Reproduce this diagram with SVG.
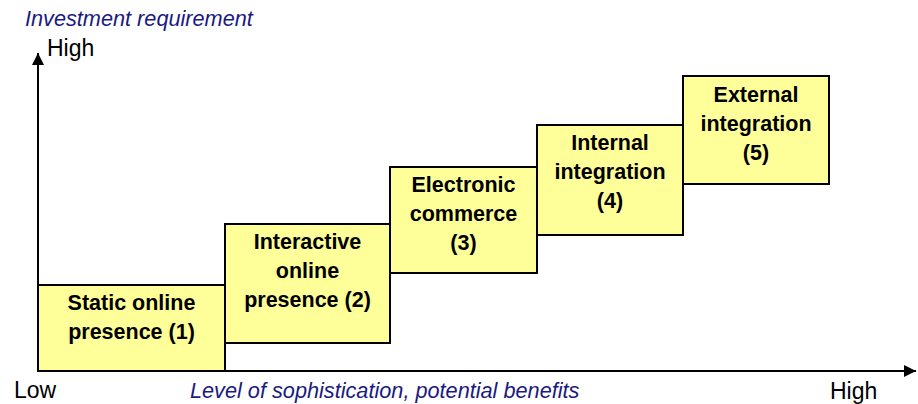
<svg xmlns="http://www.w3.org/2000/svg" width="918" height="404" viewBox="0 0 918 404">
<style>
.box{fill:#ffff99;stroke:#000;stroke-width:2}
.bt{font-family:"Liberation Sans",Arial,sans-serif;font-weight:bold;font-size:21.5px;text-anchor:middle;fill:#000}
.ax{font-family:"Liberation Sans",Arial,sans-serif;font-size:23px;fill:#000}
.it{font-family:"Liberation Sans",Arial,sans-serif;font-style:italic;font-size:21.7px;fill:#1a1a80}
.axis{stroke:#000;stroke-width:2;fill:none}
</style>
<defs>
<marker id="arr" viewBox="0 0 10 10" refX="10" refY="5" markerWidth="6" markerHeight="6" markerUnits="strokeWidth" orient="auto">
<path d="M0,0 L10,5 L0,10 z" fill="#000"/>
</marker>
</defs>
<g id="connectors">
<line class="axis" x1="38" y1="371" x2="38" y2="53" marker-end="url(#arr)"/>
<line class="axis" x1="38" y1="371" x2="916" y2="371" marker-end="url(#arr)"/>
</g>
<g id="node1">
<rect class="box" x="38" y="285" width="187" height="86"/>
<text class="bt" x="131.5" y="310">Static online</text>
<text class="bt" x="131.5" y="339">presence (1)</text>
</g>
<g id="node2">
<rect class="box" x="225" y="224" width="165" height="119"/>
<text class="bt" x="307.5" y="249">Interactive</text>
<text class="bt" x="307.5" y="278">online</text>
<text class="bt" x="307.5" y="307">presence (2)</text>
</g>
<g id="node3">
<rect class="box" x="390" y="167" width="147" height="106"/>
<text class="bt" x="463.5" y="192">Electronic</text>
<text class="bt" x="463.5" y="221">commerce</text>
<text class="bt" x="463.5" y="250">(3)</text>
</g>
<g id="node4">
<rect class="box" x="537" y="125" width="146" height="110"/>
<text class="bt" x="610" y="150">Internal</text>
<text class="bt" x="610" y="179">integration</text>
<text class="bt" x="610" y="208">(4)</text>
</g>
<g id="node5">
<rect class="box" x="683" y="76" width="146" height="108"/>
<text class="bt" x="756" y="102">External</text>
<text class="bt" x="756" y="131">integration</text>
<text class="bt" x="756" y="160">(5)</text>
</g>
<g id="labels">
<text class="it" x="25" y="26">Investment requirement</text>
<text class="ax" x="47" y="56">High</text>
<text class="ax" x="14" y="398">Low</text>
<text class="it" x="190" y="398">Level of sophistication, potential benefits</text>
<text class="ax" x="830" y="399">High</text>
</g>
</svg>
